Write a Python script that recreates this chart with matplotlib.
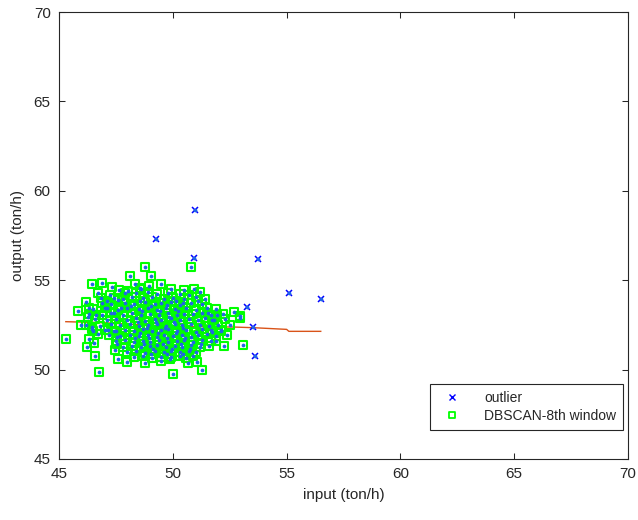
import matplotlib
matplotlib.use("Agg")
import matplotlib.pyplot as plt
from matplotlib.lines import Line2D
from matplotlib.markers import MarkerStyle

plt.rcParams['font.family'] = ['Liberation Sans', 'DejaVu Sans']

# Points flagged as outliers
outlier_input = [49.25, 50.98, 50.92, 53.73, 55.09, 56.49, 53.25, 53.52, 53.60]
outlier_output = [57.30, 58.93, 56.24, 56.19, 54.29, 53.95, 53.50, 52.38, 50.78]

# Points kept in the DBSCAN cluster (8th window)
inlier_input = [
    48.80, 50.82, 48.12, 49.04, 46.46, 46.90, 48.33, 49.50, 47.33, 47.63,
    48.04, 50.93, 46.73, 46.17, 45.85, 50.46, 49.75, 45.95, 45.31, 46.34,
    46.73, 46.24, 46.60, 46.77, 50.01, 47.60, 47.97, 48.80, 49.47, 49.88,
    50.67, 51.06, 51.27, 51.25, 47.47, 46.43, 52.70, 52.94, 52.10, 51.55,
    51.96, 51.74, 52.25, 53.08, 51.89, 50.90, 51.74, 52.94, 46.54, 46.45,
    47.15, 47.52, 47.56, 47.56, 47.22, 47.59, 46.83, 46.34, 46.64, 47.00,
    47.29, 47.73, 46.27, 48.95, 48.58,
    48.6, 49.9, 50.5, 47.1, 48.55, 50.15, 51.1,
    47.9, 48.4, 48.9, 49.3, 49.8, 50.3, 50.7, 51.2,
    47.4, 47.8, 48.2, 48.7, 49.1, 49.6, 50.0, 50.5, 51.0, 51.4,
    46.9, 47.3, 47.9, 48.3, 48.8, 49.2, 49.5, 49.9, 50.3, 50.8, 51.3,
    46.5, 47.1, 47.6, 48.0, 48.5, 48.9, 49.3, 49.7, 50.1, 50.6, 51.0, 51.5, 51.9,
    46.3, 46.9, 47.4, 47.8, 48.2, 48.6, 49.0, 49.4, 49.8, 50.2, 50.5, 50.9, 51.3, 51.7, 52.2,
    46.6, 47.1, 47.5, 48.0, 48.4, 48.8, 49.2, 49.5, 49.9, 50.3, 50.7, 51.1, 51.4, 51.8, 52.3,
    46.2, 46.8, 47.3, 47.7, 48.1, 48.5, 48.9, 49.3, 49.7, 50.1, 50.4, 50.8, 51.2, 51.6, 52.0, 52.5,
    46.5, 47.0, 47.4, 47.9, 48.3, 48.7, 49.1, 49.5, 49.8, 50.2, 50.6, 51.0, 51.3, 51.7, 52.1,
    47.2, 47.7, 48.1, 48.5, 48.9, 49.3, 49.6, 50.0, 50.4, 50.8, 51.1, 51.5, 51.9, 52.4,
    47.5, 47.9, 48.3, 48.7, 49.0, 49.4, 49.8, 50.2, 50.5, 50.9, 51.3, 51.7,
    47.8, 48.2, 48.6, 49.0, 49.3, 49.7, 50.1, 50.4, 50.8, 51.2, 51.6,
    48.0, 48.4, 48.8, 49.2, 49.6, 49.9, 50.3, 50.7, 51.0,
    48.3, 48.7, 49.1, 49.5, 49.9, 50.3, 50.6,
    48.15, 48.65, 49.05, 49.45, 49.85, 50.25, 48.45, 48.85, 49.25, 49.65,
    50.05, 50.45, 48.55, 48.95, 49.35, 49.75, 50.15, 50.55, 48.75, 49.15,
    49.55, 49.95, 50.35, 50.75, 48.35, 49.05, 49.75, 50.45,
]
inlier_output = [
    55.74, 55.75, 55.23, 55.23, 54.78, 54.83, 54.77, 54.79, 54.60, 54.46,
    54.42, 54.49, 54.28, 53.78, 53.29, 53.71, 53.63, 52.50, 51.71, 51.72,
    51.99, 51.28, 50.75, 49.84, 49.74, 50.60, 50.40, 50.35, 50.48, 50.60,
    50.35, 50.42, 49.98, 51.42, 51.08, 52.36, 53.24, 53.00, 52.14, 53.15,
    53.05, 52.77, 51.34, 51.36, 51.58, 50.74, 52.10, 52.88, 51.49, 52.27,
    52.24, 52.18, 51.81, 51.43, 54.17, 53.89, 54.02, 53.42, 53.05, 53.42,
    53.15, 53.42, 52.96, 54.68, 54.55,
    54.50, 54.52, 54.45, 53.85, 53.86, 53.85, 53.84,
    54.31, 54.26, 54.35, 54.22, 54.30, 54.25, 54.18, 54.33,
    54.03, 53.96, 54.08, 53.98, 54.05, 53.93, 54.02, 53.97, 54.06, 53.95,
    53.72, 53.66, 53.74, 53.68, 53.77, 53.65, 53.71, 53.76, 53.62, 53.73, 53.67,
    53.38, 53.44, 53.35, 53.46, 53.37, 53.43, 53.36, 53.45, 53.39, 53.42, 53.34, 53.47, 53.38,
    53.12, 53.06, 53.14, 53.08, 53.15, 53.04, 53.11, 53.07, 53.16, 53.05, 53.13, 53.09, 53.14, 53.03, 53.10,
    52.83, 52.77, 52.85, 52.79, 52.86, 52.74, 52.82, 52.78, 52.87, 52.76, 52.84, 52.79, 52.86, 52.75, 52.81,
    52.52, 52.46, 52.55, 52.48, 52.53, 52.44, 52.51, 52.57, 52.45, 52.54, 52.47, 52.56, 52.49, 52.43, 52.52, 52.47,
    52.18, 52.24, 52.15, 52.22, 52.17, 52.26, 52.14, 52.21, 52.27, 52.16, 52.23, 52.13, 52.25, 52.19, 52.22,
    51.93, 51.86, 51.95, 51.88, 51.92, 51.84, 51.96, 51.89, 51.94, 51.85, 51.91, 51.97, 51.87, 51.92,
    51.58, 51.64, 51.55, 51.62, 51.57, 51.65, 51.54, 51.61, 51.66, 51.56, 51.63, 51.59,
    51.27, 51.34, 51.25, 51.31, 51.36, 51.24, 51.32, 51.28, 51.35, 51.26, 51.33,
    50.98, 51.04, 50.95, 51.02, 50.97, 51.05, 50.96, 51.03, 50.99,
    50.68, 50.74, 50.66, 50.72, 50.69, 50.75, 50.67,
    53.55, 53.25, 53.55, 53.25, 52.95, 53.25, 52.65, 52.35, 52.65, 52.35,
    52.65, 52.35, 52.05, 51.75, 52.05, 51.75, 52.05, 51.75, 51.45, 51.15,
    51.45, 51.15, 51.45, 51.15, 51.75, 50.85, 50.85, 50.85,
]

# Fitted trend through the window
trend_input = [45.3, 47.0, 48.8, 49.7, 51.3, 52.7, 53.6, 55.0, 55.1, 56.5]
trend_output = [52.68, 52.62, 52.49, 52.44, 52.40, 52.38, 52.34, 52.25, 52.14, 52.14]

x_ticks = [45, 50, 55, 60, 65, 70]
y_ticks = [45, 50, 55, 60, 65, 70]

axis_color = (0.15, 0.15, 0.15)
green = (0.0, 1.0, 0.0)
blue = (0.0, 0.0, 1.0)
orange = (0.85, 0.325, 0.098)

fig = plt.figure(figsize=(6.38, 5.20), dpi=100)
ax = fig.add_axes([59 / 638, 61 / 520, 569 / 638, 447 / 520])

ax.plot(trend_input, trend_output, color=orange, lw=1.0, zorder=2)

green_marker = MarkerStyle('s', joinstyle='round')
ax.plot(inlier_input, inlier_output, linestyle='none', marker=green_marker,
        ms=5.5, mfc='none', mec=green, mew=1.5, zorder=3)
ax.plot(outlier_input, outlier_output, linestyle='none', marker='x',
        ms=4.5, mec=blue, mew=1.1, zorder=4)
ax.plot(inlier_input + outlier_input, inlier_output + outlier_output,
        linestyle='none', marker='o', ms=2.7, mfc=(0.12, 0.4, 0.9), mec='none',
        zorder=5)

ax.set_xlim(45, 70)
ax.set_ylim(45, 70)
ax.set_xticks(x_ticks)
ax.set_yticks(y_ticks)
ax.tick_params(direction='in', length=4, width=0.75, colors=axis_color,
               labelsize=11, top=True, right=True, pad=6)
for sp in ax.spines.values():
    sp.set_color(axis_color)
    sp.set_linewidth(0.8)

ax.set_xlabel('input (ton/h)', fontsize=11, color=axis_color, labelpad=5)
ax.set_ylabel('output (ton/h)', fontsize=11, color=axis_color, labelpad=6)

handles = [
    Line2D([], [], linestyle='none', marker='x', ms=4.5, mec=blue, mew=1.0),
    Line2D([], [], linestyle='none', marker=green_marker, ms=5.0, mfc='none',
           mec=green, mew=1.3),
]
leg = ax.legend(handles, ['outlier', 'DBSCAN-8th window'], loc='lower right',
                bbox_to_anchor=(0.991, 0.065), borderaxespad=0, fontsize=10,
                fancybox=False, framealpha=1, edgecolor=axis_color,
                handlelength=2.2, handletextpad=1.2, borderpad=0.5,
                labelspacing=0.3)
leg.get_frame().set_linewidth(0.8)
for t in leg.get_texts():
    t.set_color(axis_color)

fig.savefig('out.png', dpi=100)
